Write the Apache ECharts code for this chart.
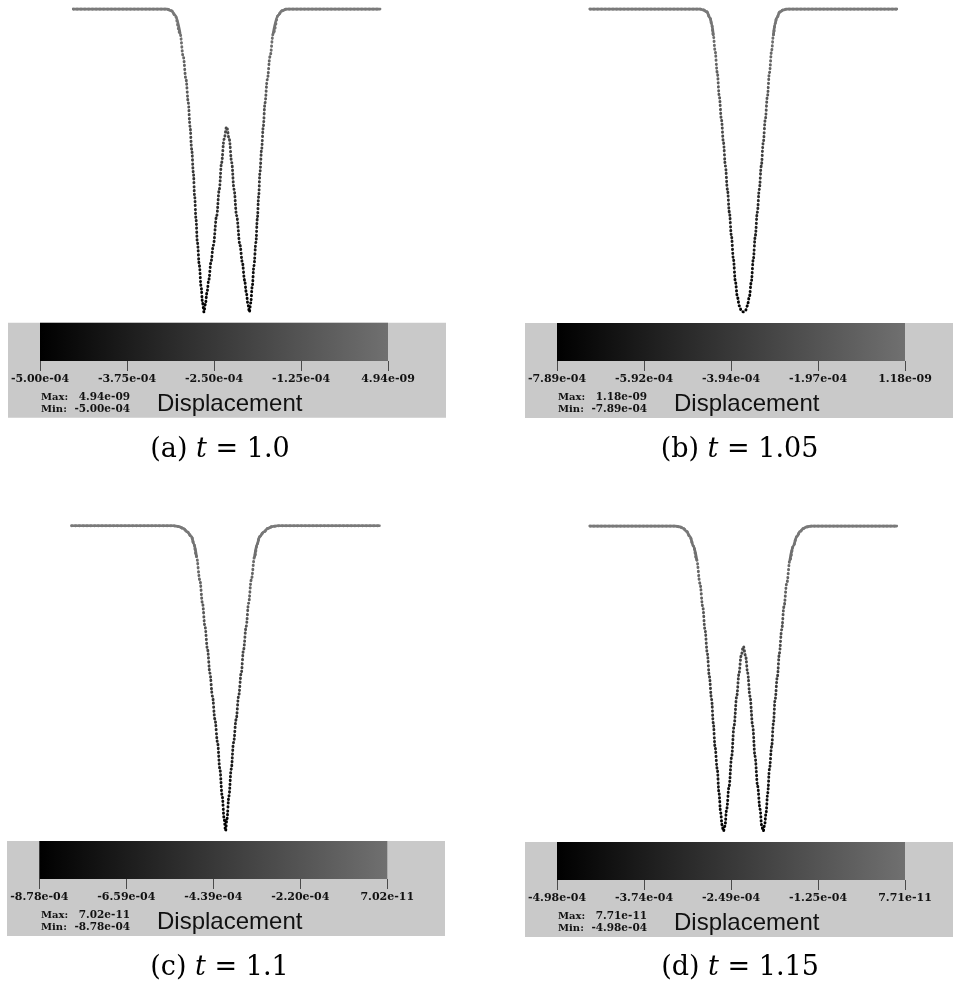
<!DOCTYPE html>
<html><head><meta charset="utf-8">
<script src="https://cdn.jsdelivr.net/npm/echarts@6/dist/echarts.min.js"></script>
<style>html,body{margin:0;padding:0;background:#fff}#c{width:953px;height:983px}</style>
</head><body><div id="c"></div>
<script>
// ---- data (displacement in units of 1e-4, position normalised to [-1,1]) ----
const xPosA = [-1, -0.391, -0.359, -0.337, -0.304, -0.283, -0.265, -0.25, -0.239, -0.228, -0.217, -0.209, -0.2, -0.191, -0.178, -0.167, -0.157, -0.148, -0.139, -0.128, -0.117, -0.102, -0.087, -0.065, -0.048, -0.033, -0.017, 0, 0.017, 0.033, 0.048, 0.065, 0.087, 0.102, 0.117, 0.128, 0.139, 0.148, 0.157, 0.167, 0.178, 0.191, 0.2, 0.209, 0.217, 0.228, 0.239, 0.25, 0.265, 0.283, 0.304, 0.337, 0.359, 0.391, 1];
const dispA = [0, 0, -0.03, -0.10, -0.40, -0.785, -1.165, -1.55, -1.935, -2.315, -2.70, -3.085, -3.465, -3.85, -4.235, -4.575, -4.85, -5.00, -4.875, -4.675, -4.475, -4.175, -3.90, -3.41, -2.975, -2.535, -2.15, -1.945, -2.15, -2.535, -2.975, -3.41, -3.90, -4.175, -4.475, -4.675, -4.875, -5.00, -4.85, -4.575, -4.235, -3.85, -3.465, -3.085, -2.70, -2.315, -1.935, -1.55, -1.165, -0.785, -0.40, -0.10, -0.03, 0, 0];

const xPosB = [-1, -0.283, -0.261, -0.239, -0.217, -0.207, -0.196, -0.185, -0.170, -0.157, -0.143, -0.130, -0.117, -0.104, -0.091, -0.078, -0.065, -0.052, -0.039, -0.026, -0.013, 0, 0.013, 0.026, 0.039, 0.052, 0.065, 0.078, 0.091, 0.104, 0.117, 0.130, 0.143, 0.157, 0.170, 0.185, 0.196, 0.207, 0.217, 0.239, 0.261, 0.283, 1];
const dispB = [0, 0, -0.024, -0.071, -0.237, -0.379, -0.671, -1.065, -1.657, -2.272, -2.880, -3.472, -4.087, -4.695, -5.294, -5.902, -6.509, -7.101, -7.496, -7.732, -7.858, -7.89, -7.858, -7.732, -7.496, -7.101, -6.509, -5.902, -5.294, -4.695, -4.087, -3.472, -2.880, -2.272, -1.657, -1.065, -0.671, -0.379, -0.237, -0.071, -0.024, 0, 0];

const xPosC = [-1, -0.340, -0.303, -0.275, -0.249, -0.221, -0.206, -0.189, -0.167, -0.150, -0.134, -0.117, -0.102, -0.085, -0.069, -0.052, -0.037, -0.022, -0.009, 0, 0.009, 0.022, 0.037, 0.052, 0.069, 0.085, 0.102, 0.117, 0.134, 0.150, 0.167, 0.189, 0.206, 0.221, 0.249, 0.275, 0.303, 0.340, 1];
const dispC = [0, 0, -0.026, -0.079, -0.176, -0.316, -0.527, -0.887, -1.563, -2.230, -2.897, -3.565, -4.241, -4.908, -5.575, -6.243, -7.006, -7.779, -8.446, -8.78, -8.446, -7.779, -7.006, -6.243, -5.575, -4.908, -4.241, -3.565, -2.897, -2.230, -1.563, -0.887, -0.527, -0.316, -0.176, -0.079, -0.026, 0, 0];

const xPosD = [-1, -0.446, -0.413, -0.391, -0.370, -0.348, -0.326, -0.304, -0.283, -0.265, -0.25, -0.235, -0.222, -0.207, -0.196, -0.185, -0.170, -0.159, -0.148, -0.139, -0.130, -0.120, -0.109, -0.093, -0.076, -0.061, -0.043, -0.028, -0.015, 0, 0.015, 0.028, 0.043, 0.061, 0.076, 0.093, 0.109, 0.120, 0.130, 0.139, 0.148, 0.159, 0.170, 0.185, 0.196, 0.207, 0.222, 0.235, 0.25, 0.265, 0.283, 0.304, 0.326, 0.348, 0.370, 0.391, 0.413, 0.446, 1];
const dispD = [0, 0, -0.015, -0.040, -0.090, -0.174, -0.324, -0.553, -0.936, -1.315, -1.693, -2.077, -2.455, -2.834, -3.217, -3.596, -3.974, -4.358, -4.681, -4.880, -4.98, -4.900, -4.626, -4.248, -3.760, -3.267, -2.779, -2.400, -2.126, -1.967, -2.126, -2.400, -2.779, -3.267, -3.760, -4.248, -4.626, -4.900, -4.98, -4.880, -4.681, -4.358, -3.974, -3.596, -3.217, -2.834, -2.455, -2.077, -1.693, -1.315, -0.936, -0.553, -0.324, -0.174, -0.090, -0.040, -0.015, 0, 0];

const rangeMin = [-5.00, -7.89, -8.78, -4.98];
const ticksA = ['-5.00e-04', '-3.75e-04', '-2.50e-04', '-1.25e-04', '4.94e-09'];
const ticksB = ['-7.89e-04', '-5.92e-04', '-3.94e-04', '-1.97e-04', '1.18e-09'];
const ticksC = ['-8.78e-04', '-6.59e-04', '-4.39e-04', '-2.20e-04', '7.02e-11'];
const ticksD = ['-4.98e-04', '-3.74e-04', '-2.49e-04', '-1.25e-04', '7.71e-11'];
const maxText = ['4.94e-09', '1.18e-09', '7.02e-11', '7.71e-11'];
const minText = ['-5.00e-04', '-7.89e-04', '-8.78e-04', '-4.98e-04'];
const captionLetter = ['(a)', '(b)', '(c)', '(d)'];
const captionTime = ['1.0', '1.05', '1.1', '1.15'];
const barTitle = 'Displacement';

// ---- layout ----
const layout = [
  {curve:{left:73.3, top:9, width:306.7, height:303}, bar:{left:40, top:322.7, width:348, height:38.3}, box:[8,322.7,438,95], lab:[41,397.5,409.5], disp:[157,404], cap:[220,450]},
  {curve:{left:590, top:9, width:306.7, height:303}, bar:{left:557, top:323, width:348, height:38}, box:[525,323,438,95], lab:[558,397.5,409.5], disp:[674,404], cap:[739.5,450]},
  {curve:{left:71.7, top:525.7, width:307.7, height:305}, bar:{left:39.3, top:841, width:348, height:38}, box:[7,841,438,95], lab:[41,915.5,927.5], disp:[157,922.5], cap:[219.5,968]},
  {curve:{left:590, top:526, width:306.7, height:305}, bar:{left:557, top:842, width:348, height:38}, box:[525,842,438,95], lab:[558,916.5,928.5], disp:[674,923.5], cap:[740,968]}
];
const xs = [xPosA, xPosB, xPosC, xPosD];
const vs = [dispA, dispB, dispC, dispD];
const ticks = [ticksA, ticksB, ticksC, ticksD];

const chart = echarts.init(document.getElementById('c'), null, {renderer:'canvas'});
const grid = [], xAxis = [], yAxis = [], series = [], visualMap = [], graphic = [];
const serif = 'DejaVu Serif';
const labTxt = {fontFamily:serif, fontSize:10, fontWeight:'bold', fill:'#111', verticalAlign:'middle'};
const valTxt = {fontFamily:serif, fontSize:10.5, fontWeight:'bold', fill:'#111', verticalAlign:'middle'};

for (let i = 0; i < 4; i++) {
  const L = layout[i];
  grid.push(Object.assign({show:false, outerBoundsMode:'none', containLabel:false}, L.curve));
  grid.push(Object.assign({show:false, outerBoundsMode:'none', containLabel:false}, L.bar));
  const gc = 2*i, gb = 2*i+1;
  xAxis.push({gridIndex:gc, type:'value', min:-1, max:1, show:false});
  yAxis.push({gridIndex:gc, type:'value', min:rangeMin[i], max:0, show:false});
  const tk = ticks[i];
  xAxis.push({gridIndex:gb, type:'value', min:0, max:4, interval:1, position:'bottom',
    axisLine:{show:false}, splitLine:{show:false},
    axisTick:{show:true, length:10, inside:false, lineStyle:{color:'#4a4a4a', width:1}},
    axisLabel:{show:true, margin:13, fontFamily:serif, fontSize:11, fontWeight:'bold', color:'#111', hideOverlap:false,
      showMinLabel:true, showMaxLabel:true, formatter:(v)=>tk[Math.round(v)]}});
  yAxis.push({gridIndex:gb, type:'value', min:0, max:1, show:false});

  const pts = xs[i].map((x,k)=>[x, vs[i][k]]);
  const thr = 0.12*Math.abs(rangeMin[i]);
  const flatPts = xs[i].map((x,k)=>Math.abs(vs[i][k]) <= thr ? [x, vs[i][k]] : [x, null]);
  const sDot = series.length;
  series.push({type:'line', xAxisIndex:gc, yAxisIndex:gc, data:pts, showSymbol:false, symbol:'none',
    smooth:0.35, smoothMonotone:'x', silent:true, animation:false,
    lineStyle:{width:2.9, type:[0.4,3.4], cap:'round'}});
  series.push({type:'line', xAxisIndex:gc, yAxisIndex:gc, data:flatPts, showSymbol:false, symbol:'none',
    smooth:0.35, smoothMonotone:'x', connectNulls:false, silent:true, animation:false,
    lineStyle:{width:2.8, type:'solid', cap:'round'}});
  visualMap.push({type:'continuous', show:false, seriesIndex:[sDot, sDot+1], dimension:1,
    min:rangeMin[i], max:0, inRange:{color:['#000000','#7a7a7a']}});
  series.push({type:'line', xAxisIndex:gb, yAxisIndex:gb, data:[[0,0],[4,1]], symbol:'none', silent:true, animation:false,
    lineStyle:{opacity:0},
    markArea:{silent:true, animation:false, label:{show:false},
      itemStyle:{color:new echarts.graphic.LinearGradient(0,0,1,0,[{offset:0,color:'#000000'},{offset:1,color:'#707070'}]), borderWidth:0},
      data:[[{xAxis:0, yAxis:0},{xAxis:4, yAxis:1}]]}});

  const b = L.box;
  graphic.push({type:'rect', z:-10, silent:true, shape:{x:b[0], y:b[1], width:b[2], height:b[3]}, style:{fill:'#c9c9c9'}});
  graphic.push({type:'text', z:10, x:L.lab[0], y:L.lab[1], style:Object.assign({text:'Max:', align:'left'}, labTxt)});
  graphic.push({type:'text', z:10, x:L.lab[0], y:L.lab[2], style:Object.assign({text:'Min:', align:'left'}, labTxt)});
  graphic.push({type:'text', z:10, x:L.lab[0]+89, y:L.lab[1], style:Object.assign({text:maxText[i], align:'right'}, valTxt)});
  graphic.push({type:'text', z:10, x:L.lab[0]+89, y:L.lab[2], style:Object.assign({text:minText[i], align:'right'}, valTxt)});
  graphic.push({type:'text', z:10, x:L.disp[0], y:L.disp[1], style:{text:barTitle, fontFamily:'Liberation Sans', fontSize:24, fill:'#111', align:'left', verticalAlign:'middle'}});
  graphic.push({type:'text', z:10, x:L.cap[0], y:L.cap[1], style:{
    text:captionLetter[i] + ' {i|t} = ' + captionTime[i],
    fontFamily:'DejaVu Serif', fontSize:27, fill:'#000', align:'center', verticalAlign:'middle',
    rich:{i:{fontStyle:'italic', fontFamily:'DejaVu Serif', fontSize:27, fill:'#000'}}}});
}

chart.setOption({animation:false, backgroundColor:'#ffffff', grid, xAxis, yAxis, series, visualMap, graphic});
</script></body></html>
